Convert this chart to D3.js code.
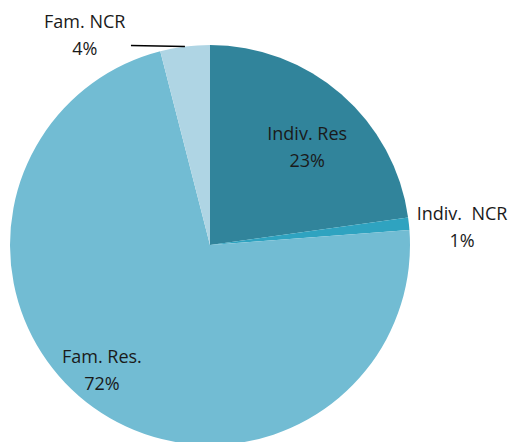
<!DOCTYPE html>
<html>
<head>
<meta charset="utf-8">
<script src="https://cdn.jsdelivr.net/npm/d3@7"></script>
<style>
  body { margin: 0; background: #fff; }
  text { font-family: "Open Sans", "Liberation Sans", sans-serif; font-size: 18px; fill: #1a1a1a; white-space: pre; }
</style>
</head>
<body>
<svg id="chart" width="511" height="442"></svg>
<script>
var categories = ["Indiv. Res", "Indiv.  NCR", "Fam. Res.", "Fam. NCR"];
var values = [22.8, 1.0, 72.2, 4.0];
var colors = ["#31849B", "#2FA3C0", "#72BCD3", "#AFD5E4"];

var svg = d3.select("#chart"),
    cx = 210, cy = 245, radius = 200;

var data = categories.map(function(c, i) { return {name: c, value: values[i]}; });

var pie = d3.pie().sort(null).value(function(d) { return d.value; });
var arc = d3.arc().innerRadius(0).outerRadius(radius);

var g = svg.append("g").attr("transform", "translate(" + cx + "," + cy + ")");

var arcs = pie(data);

g.selectAll("path")
  .data(arcs)
  .enter().append("path")
    .attr("d", arc)
    .style("fill", function(d, i) { return colors[i]; });

// label placement: [angle offset in degrees from slice middle, radius factor]
var labelPlace = [[0, 0.74], [-1, 1.27], [8.6, 0.775], [-22.1, 1.28]];

function polar(angle, r) {
  return [Math.sin(angle) * r, -Math.cos(angle) * r];
}

arcs.forEach(function(d, i) {
  var mid = (d.startAngle + d.endAngle) / 2 + labelPlace[i][0] * Math.PI / 180;
  var p = polar(mid, radius * labelPlace[i][1]);
  var t = g.append("text")
    .attr("text-anchor", "middle")
    .attr("transform", "translate(" + p + ")");
  t.append("tspan").attr("x", 0).attr("dy", "0.36em").text(d.data.name);
  t.append("tspan").attr("x", 0).attr("dy", 27).text(Math.round(d.data.value) + "%");
});

// leader line for Fam. NCR
var last = arcs[3];
var edge = polar((last.startAngle + last.endAngle) / 2, radius);
g.append("line")
  .attr("x1", edge[0]).attr("y1", edge[1])
  .attr("x2", edge[0] - 54).attr("y2", edge[1] - 1)
  .style("stroke", "#000")
  .style("stroke-width", 1.5);
</script>
</body>
</html>
